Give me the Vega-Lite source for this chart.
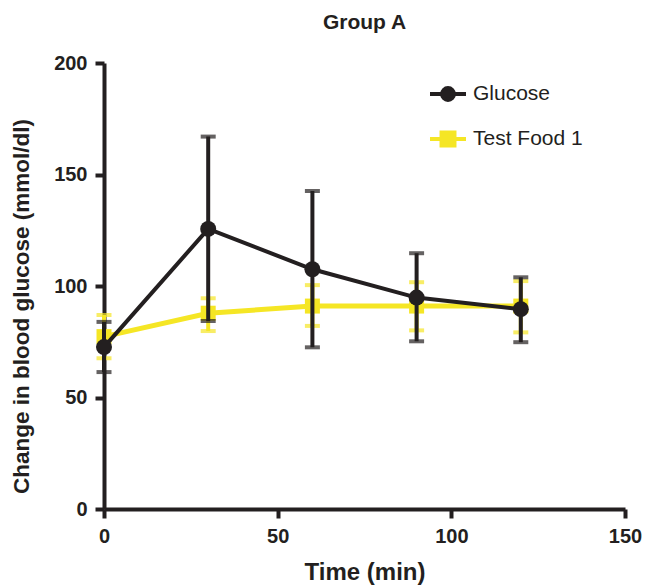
{
  "$schema": "https://vega.github.io/schema/vega-lite/v6.json",
  "width": 521,
  "height": 446,
  "autosize": {"type": "none"},
  "padding": {"left": 104, "top": 63, "right": 21, "bottom": 78},
  "background": "white",
  "title": {"text": "Group A", "fontSize": 21, "font": "Liberation Sans", "fontWeight": "bold", "color": "#231f20", "offset": 20},
  "config": {
    "view": {"stroke": null},
    "axis": {
      "domainColor": "#231f20", "domainWidth": 4, "tickColor": "#231f20", "tickWidth": 4, "tickSize": 9,
      "labelFont": "Liberation Sans", "labelFontWeight": "bold", "labelFontSize": 20, "labelColor": "#231f20",
      "titleFont": "Liberation Sans", "titleFontWeight": "bold", "titleColor": "#231f20",
      "grid": false, "labelFlush": false
    }
  },
  "data": {"values": [
    {"series": "Glucose", "time": 0, "mean": 72.6, "lo": 61.4, "hi": 83.9},
    {"series": "Glucose", "time": 30, "mean": 125.6, "lo": 84.3, "hi": 167.0},
    {"series": "Glucose", "time": 60, "mean": 107.5, "lo": 72.5, "hi": 142.6},
    {"series": "Glucose", "time": 90, "mean": 94.8, "lo": 75.2, "hi": 114.7},
    {"series": "Glucose", "time": 120, "mean": 89.6, "lo": 74.8, "hi": 103.9},
    {"series": "Test Food 1", "time": 0, "mean": 77.3, "lo": 67.6, "hi": 87.0},
    {"series": "Test Food 1", "time": 30, "mean": 87.8, "lo": 79.8, "hi": 94.5},
    {"series": "Test Food 1", "time": 60, "mean": 91.0, "lo": 82.1, "hi": 100.4},
    {"series": "Test Food 1", "time": 90, "mean": 91.0, "lo": 80.1, "hi": 101.7},
    {"series": "Test Food 1", "time": 120, "mean": 91.0, "lo": 79.2, "hi": 102.2}
  ]},
  "encoding": {
    "x": {"field": "time", "type": "quantitative", "scale": {"domain": [0, 150], "nice": false},
      "axis": {"values": [0, 50, 100, 150], "title": "Time (min)", "titleFontSize": 24, "labelPadding": 8, "titlePadding": 14}},
    "y": {"field": "mean", "type": "quantitative", "scale": {"domain": [0, 200], "nice": false},
      "axis": {"values": [0, 50, 100, 150, 200], "title": "Change in blood glucose (mmol/dl)", "titleFontSize": 22.5, "labelPadding": 8, "titlePadding": 20, "titleY": 243}}
  },
  "layer": [
    {
      "transform": [{"filter": "datum.series === 'Test Food 1'"}],
      "layer": [
        {"mark": {"type": "rule", "color": "#f5e625", "strokeWidth": 4}, "encoding": {"y": {"field": "lo", "type": "quantitative"}, "y2": {"field": "hi"}}},
        {"mark": {"type": "tick", "color": "#f5e625", "orient": "horizontal", "size": 15, "thickness": 4}, "encoding": {"y": {"field": "lo", "type": "quantitative"}}},
        {"mark": {"type": "tick", "color": "#f5e625", "orient": "horizontal", "size": 15, "thickness": 4}, "encoding": {"y": {"field": "hi", "type": "quantitative"}}},
        {"mark": {"type": "line", "color": "#f5e625", "strokeWidth": 5}},
        {"mark": {"type": "point", "shape": "square", "filled": true, "opacity": 1, "size": 225, "color": "#f5e625"}}
      ]
    },
    {
      "transform": [{"filter": "datum.series === 'Glucose'"}],
      "layer": [
        {"mark": {"type": "rule", "color": "#231f20", "strokeWidth": 4}, "encoding": {"y": {"field": "lo", "type": "quantitative"}, "y2": {"field": "hi"}}},
        {"mark": {"type": "tick", "color": "#231f20", "orient": "horizontal", "size": 15, "thickness": 4}, "encoding": {"y": {"field": "lo", "type": "quantitative"}}},
        {"mark": {"type": "tick", "color": "#231f20", "orient": "horizontal", "size": 15, "thickness": 4}, "encoding": {"y": {"field": "hi", "type": "quantitative"}}},
        {"mark": {"type": "line", "color": "#231f20", "strokeWidth": 4}},
        {"mark": {"type": "point", "shape": "circle", "filled": true, "opacity": 1, "size": 256, "color": "#231f20"}}
      ]
    },
    {
      "transform": [{"filter": "false"}],
      "mark": {"type": "point", "filled": true, "opacity": 1, "size": 1296, "strokeWidth": 4},
      "encoding": {
        "color": {"field": "series", "type": "nominal",
          "scale": {"domain": ["Glucose", "Test Food 1"], "range": ["#231f20", "#f5e625"]},
          "legend": {
            "orient": "none", "legendX": 324, "legendY": 11, "title": null, "padding": 0,
            "symbolSize": 1296, "symbolStrokeWidth": 4, "labelFontSize": 21, "labelFont": "Liberation Sans", "labelColor": "#231f20",
            "labelOffset": 5, "rowPadding": 11
          }
        },
        "stroke": {"field": "series", "type": "nominal",
          "scale": {"domain": ["Glucose", "Test Food 1"], "range": ["#231f20", "#f5e625"]},
          "legend": {
            "orient": "none", "legendX": 324, "legendY": 11, "title": null, "padding": 0,
            "symbolSize": 1296, "symbolStrokeWidth": 4, "labelFontSize": 21, "labelFont": "Liberation Sans", "labelColor": "#231f20",
            "labelOffset": 5, "rowPadding": 11
          }
        },
        "shape": {"field": "series", "type": "nominal",
          "scale": {"domain": ["Glucose", "Test Food 1"], "range": ["M-1,0L1,0M-0.33,0A0.33,0.33 0 1,1 0.33,0A0.33,0.33 0 1,1 -0.33,0Z", "M-1,0L1,0M-0.36,-0.36L0.36,-0.36L0.36,0.36L-0.36,0.36Z"]},
          "legend": {
            "orient": "none", "legendX": 324, "legendY": 11, "title": null, "padding": 0,
            "symbolSize": 1296, "symbolStrokeWidth": 4, "labelFontSize": 21, "labelFont": "Liberation Sans", "labelColor": "#231f20",
            "labelOffset": 5, "rowPadding": 11
          }
        }
      }
    }
  ]
}
